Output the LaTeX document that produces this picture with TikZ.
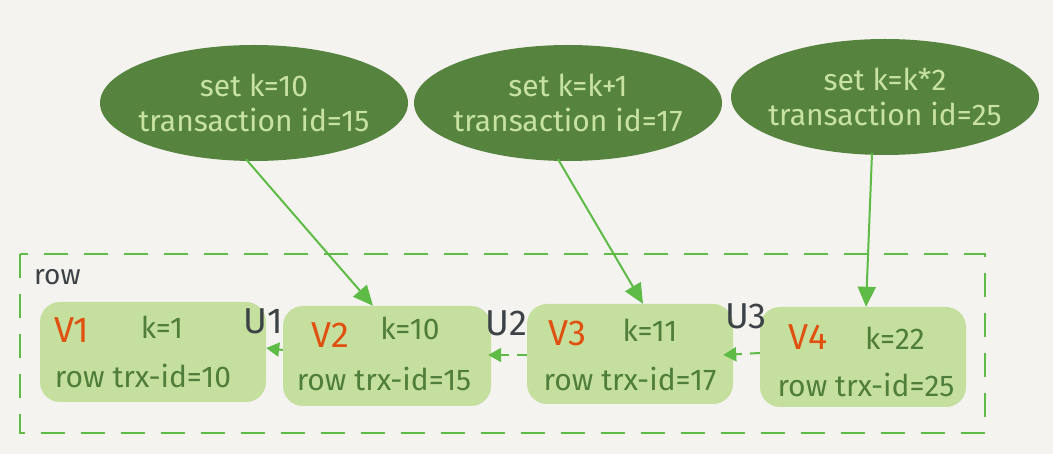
\documentclass[tikz,border=0pt]{standalone}
\usepackage{fontspec}
\setmainfont{Fira Sans}
\usetikzlibrary{shapes.geometric,arrows.meta,calc}
\definecolor{bgc}{HTML}{F4F3EF}
\definecolor{ellc}{HTML}{56843F}
\definecolor{elltxt}{HTML}{C8E2A0}
\definecolor{boxc}{HTML}{C5E09E}
\definecolor{boxtxt}{HTML}{4F7D3B}
\definecolor{vred}{HTML}{E0500F}
\definecolor{ugray}{HTML}{3D4247}
\definecolor{arrc}{HTML}{5DBB46}
\tikzset{
  txbubble/.style={ellipse, fill=ellc, minimum width=308pt, minimum height=116pt, inner sep=0pt},
  bubtext/.style={text=elltxt, align=center, inner sep=0pt, font=\fontsize{30}{35}\selectfont},
  verbox/.style={rounded corners=20pt, fill=boxc, minimum width=208pt, minimum height=100pt, inner sep=0pt},
  vlab/.style={text=vred, font=\fontsize{36}{40}\selectfont, inner sep=0pt},
  klab/.style={text=boxtxt, font=\fontsize{30}{32}\selectfont, inner sep=0pt},
  rlab/.style={text=boxtxt, font=\fontsize{30}{32}\selectfont, inner sep=0pt},
  ulab/.style={text=ugray, font=\fontsize{36}{40}\selectfont, inner sep=0pt},
  solidarr/.style={draw=arrc, line width=2pt, -{Triangle[length=20pt,width=18pt]}},
  dasharr/.style={draw=arrc, line width=2pt, dash pattern=on 10pt off 8pt, -{Triangle[length=13pt,width=14pt]}},
  frame/.style={draw=arrc, line width=2.5pt, dash pattern=on 24pt off 16pt}
}
\begin{document}
\begin{tikzpicture}[x=1pt,y=-1pt]
\fill[bgc] (0,0) rectangle (1053,454);
\useasboundingbox (0,0) rectangle (1053,454);
% frame
\draw[frame] (20,254) rectangle (985,433);
\node[text=ugray, font=\fontsize{28}{30}\selectfont, inner sep=0pt, anchor=west] (rowlab) at (34,277) {row};
% ellipses
\node[txbubble] (e1) at (254,103) {};
\node[bubtext] (t1) at ($(e1)+(0,0)$) {set k=10\\transaction id=15};
\node[txbubble] (e2) at (568,103) {};
\node[bubtext] (t2) at ($(e2)+(0,0)$) {set k=k+1\\transaction id=17};
\node[txbubble] (e3) at (885,97) {};
\node[bubtext] (t3) at ($(e3)+(0,0)$) {set k=k*2\\transaction id=25};
% boxes
\node[verbox, minimum width=226pt] (b1) at (153,352) {};
\node[verbox] (b2) at (387,356) {};
\node[verbox, minimum width=206pt] (b3) at (630,354) {};
\node[verbox, minimum width=206pt] (b4) at (863,357) {};
% box texts
\node[vlab] (v1) at (72,330) {V1};
\node[klab] (k1) at (162,327) {k=1};
\node[rlab] (r1) at (143,376) {row trx-id=10};
\node[vlab] (v2) at (330,335) {V2};
\node[klab] (k2) at (410,328) {k=10};
\node[rlab] (r2) at (384,379) {row trx-id=15};
\node[vlab] (v3) at (567,333) {V3};
\node[klab] (k3) at (650,330) {k=11};
\node[rlab] (r3) at (630,379) {row trx-id=17};
\node[vlab] (v4) at (808,337) {V4};
\node[klab] (k4) at (895,338) {k=22};
\node[rlab] (r4) at (866,385) {row trx-id=25};
% U labels
\node[ulab] (u1) at (263,321) {U1};
\node[ulab] (u2) at (506,323) {U2};
\node[ulab] (u3) at (746,316) {U3};
% solid arrows
\draw[solidarr] ($(e1.south)+(-8,-2)$) -- ($(b2.north)+(-14,0)$);
\draw[solidarr] ($(e2.south)+(-10,-2)$) -- ($(b3.north)+(13,0)$);
\draw[solidarr] ($(e3.south)+(-13,-2)$) -- ($(b4.north)+(3,0)$);
% dashed arrows
\draw[dasharr] ($(b2.west)+(0,-6)$) -- ($(b1.east)+(0,-4)$);
\draw[dasharr] ($(b3.west)+(0,1)$) -- ($(b2.east)+(-3,-1)$);
\draw[dasharr] ($(b4.west)+(0,-4)$) -- ($(b3.east)+(-10,1)$);
\end{tikzpicture}
\end{document}
